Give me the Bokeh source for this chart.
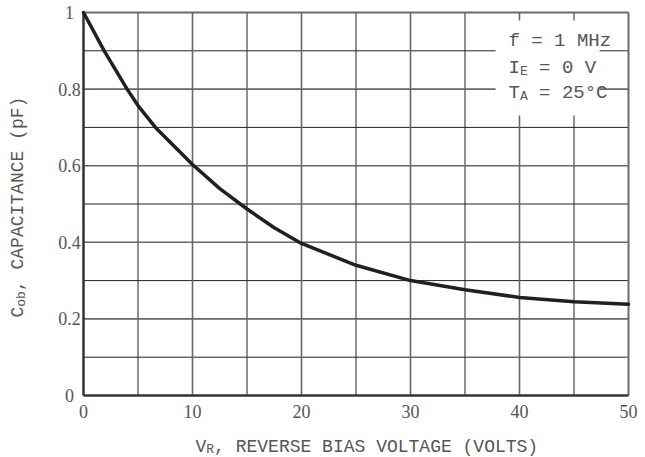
from bokeh.plotting import figure
from bokeh.models import (Range1d, Label, LabelSet, ColumnDataSource,
                          BoxAnnotation)
from bokeh.embed import file_html
from bokeh.resources import INLINE
import math

# ---- data ----
v_r = [0, 1.9, 4.0, 5, 6.6, 10, 12.5, 15, 17.5, 20, 25, 30, 35, 40, 45, 50]
c_ob = [1.0, 0.9, 0.8, 0.757, 0.7, 0.603, 0.54, 0.487, 0.438, 0.397, 0.34,
        0.30, 0.276, 0.256, 0.245, 0.238]
x_ticks = [0, 10, 20, 30, 40, 50]
x_tick_labels = ["0", "10", "20", "30", "40", "50"]
y_ticks = [0, 0.2, 0.4, 0.6, 0.8, 1.0]
y_tick_labels = ["0", "0.2", "0.4", "0.6", "0.8", "1"]
x_major_grid = [10, 20, 30, 40]
x_minor_grid = [5, 15, 25, 35, 45]
y_major_grid = [0.2, 0.4, 0.6, 0.8]
y_minor_grid = [0.1, 0.3, 0.5, 0.7, 0.9]
x_lim = [0, 50]
y_lim = [0, 1]

FONT = "Liberation Mono"
TXT = "#555555"
FS = 18
LFS = 19
SFS = 13
BL = 5  # correction of the alphabetic baseline placement

W, H = 645, 457
# data area in canvas pixels
L, R, T, B = 83, 628, 12, 395
kx = (R - L) / (x_lim[1] - x_lim[0])
ky = (B - T) / (y_lim[1] - y_lim[0])
xr = Range1d(x_lim[0] - L / kx, x_lim[0] + (W - L) / kx)
yr = Range1d(y_lim[0] - (H - B) / ky, y_lim[0] + B / ky)

p = figure(width=W, height=H, output_backend="svg", toolbar_location=None,
           x_range=xr, y_range=yr, x_axis_location=None, y_axis_location=None,
           min_border=0)
p.background_fill_color = "white"
p.border_fill_color = "white"
p.outline_line_color = None
p.xgrid.visible = False
p.ygrid.visible = False


def vlines(xs, color, width):
    n = len(xs)
    p.segment(x0=xs, y0=[y_lim[0]] * n, x1=xs, y1=[y_lim[1]] * n,
              line_color=color, line_width=width)


def hlines(ys, color, width):
    n = len(ys)
    p.segment(x0=[x_lim[0]] * n, y0=ys, x1=[x_lim[1]] * n, y1=ys,
              line_color=color, line_width=width)


vlines(x_minor_grid, "#222222", 1)
hlines(y_minor_grid, "#222222", 1)
vlines(x_major_grid, "#666666", 1.6)
hlines(y_major_grid, "#666666", 1.6)
# frame: right / top gray, left / bottom axes dark
vlines([x_lim[1]], "#6b6b6b", 2)
hlines([y_lim[1]], "#6b6b6b", 2)
vlines([x_lim[0]], "#333333", 2.5)
hlines([y_lim[0]], "#333333", 2.5)

# curve
p.line(v_r, c_ob, line_width=3.5, line_color="#231f20", line_join="round",
       line_cap="round")

# tick labels
xsrc = ColumnDataSource(dict(x=x_ticks, y=[y_lim[0]] * len(x_ticks),
                             t=x_tick_labels))
p.add_layout(LabelSet(x="x", y="y", text="t", source=xsrc, y_offset=-16,
                      text_align="center", text_baseline="middle",
                      text_font=FONT, text_font_size=f"{FS}px", text_color=TXT))
ysrc = ColumnDataSource(dict(x=[x_lim[0]] * len(y_ticks), y=y_ticks,
                             t=y_tick_labels))
p.add_layout(LabelSet(x="x", y="y", text="t", source=ysrc, x_offset=-14,
                      text_align="center", text_baseline="middle",
                      text_font=FONT, text_font_size=f"{FS}px", text_color=TXT))

# legend box
p.add_layout(BoxAnnotation(left=37.8, right=47.35, bottom=0.731, top=0.979,
                           fill_color="white", fill_alpha=1, line_color=None))


def piece(x, y, text, xo, yo, size, angle=0.0):
    p.add_layout(Label(x=x, y=y, text=text, x_offset=xo, y_offset=yo,
                       angle=angle, text_font=FONT, text_font_size=f"{size}px",
                       text_color=TXT, text_align="left",
                       text_baseline="alphabetic"))


def compose(x, y, start, base, parts, fs, angle=0.0, sub=4):
    """Lay out main / subscript pieces along the text direction."""
    cur = start
    rot = angle != 0.0
    for text, is_sub in parts:
        size = SFS if is_sub else fs
        cw = 0.6 * size
        lead = len(text) - len(text.lstrip(" "))
        cur += lead * cw
        text = text.lstrip(" ")
        shift = sub if is_sub else 0
        if rot:
            piece(x, y, text, base + shift - BL, cur, size, angle)
        else:
            piece(x, y, text, cur, base - shift + BL, size)
        cur += cw * len(text)


# legend text (anchored at top-right corner of the data area)
compose(x_lim[1], y_lim[1], -120, -33, [("f = 1 MHz", False)], LFS)
compose(x_lim[1], y_lim[1], -120, -60,
        [("I", False), ("E", True), (" = 0 V", False)], LFS)
compose(x_lim[1], y_lim[1], -120, -85,
        [("T", False), ("A", True), (" = 25°C", False)], LFS)

# x axis title
compose(x_lim[0], y_lim[0], 112, -56,
        [("V", False), ("R", True), (", REVERSE BIAS VOLTAGE (VOLTS)", False)],
        FS, sub=3)

# y axis title (rotated, reads bottom to top)
compose(x_lim[0], y_lim[0], 78, -61,
        [("C", False), ("ob", True), (", CAPACITANCE (pF)", False)],
        FS, angle=math.pi / 2)

open("out.html", "w").write(file_html(p, INLINE))
